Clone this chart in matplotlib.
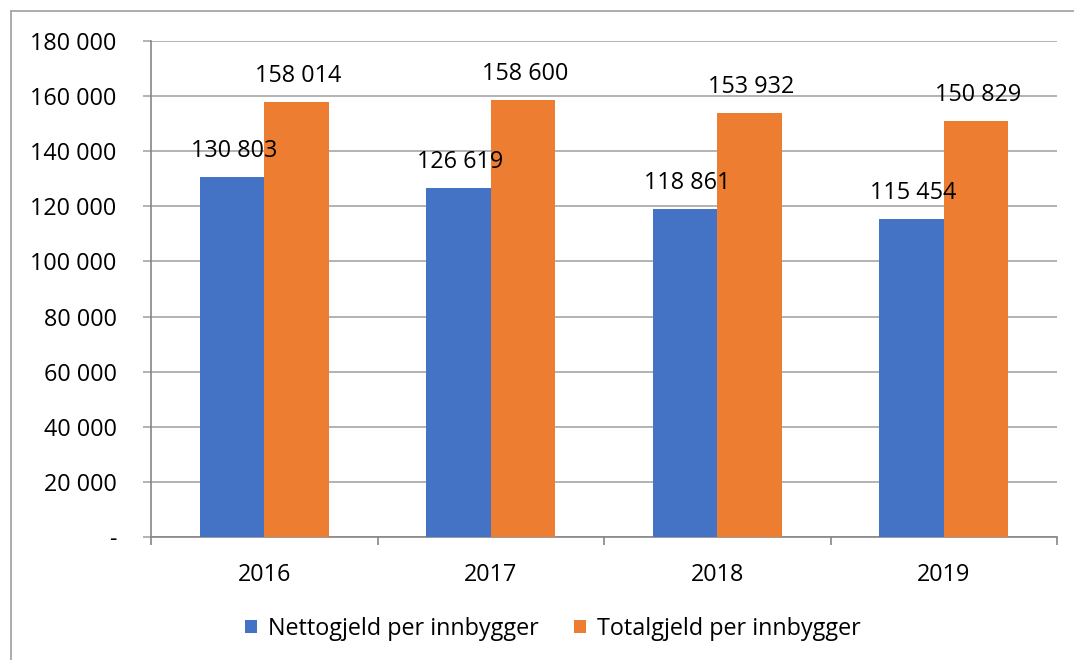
import matplotlib
matplotlib.use("Agg")
import matplotlib.pyplot as plt
from matplotlib.lines import Line2D
import numpy as np

years = ["2016", "2017", "2018", "2019"]
netto = [130803, 126619, 118861, 115454]
total = [158014, 158600, 153932, 150829]
series_names = ["Nettogjeld per innbygger", "Totalgjeld per innbygger"]
yticks = [0, 20000, 40000, 60000, 80000, 100000, 120000, 140000, 160000, 180000]

def fmt(v):
    return "-" if v == 0 else f"{v:,}".replace(",", " ")

plt.rcParams['font.family'] = ['Open Sans', 'DejaVu Sans']
FS = 16.8

W, H = 1074, 660
fig = plt.figure(figsize=(W / 100, H / 100), dpi=100)
ax = fig.add_axes([151 / W, (H - 537) / H, (1057 - 151) / W, (537 - 41) / H])

x = np.arange(len(years))
bw = 0.285
blue, orange = "#4472C4", "#ED7D31"
b1 = ax.bar(x - bw / 2, netto, bw, color=blue, label=series_names[0], zorder=3)
b2 = ax.bar(x + bw / 2, total, bw, color=orange, label=series_names[1], zorder=3)

for bars, vals in ((b1, netto), (b2, total)):
    for r, v in zip(bars, vals):
        ax.annotate(fmt(v), (r.get_x() + r.get_width() / 2, v), xytext=(2, 26),
                    textcoords="offset pixels", ha="center", va="center",
                    fontsize=FS, color="black", zorder=5)

ax.set_xlim(-0.5, len(years) - 0.5)
ax.set_ylim(0, 180000)
ax.set_yticks(yticks)
ax.set_yticklabels([fmt(v) for v in yticks], fontsize=FS)
ax.set_xticks(x)
ax.set_xticklabels(years, fontsize=FS)
ax.set_xticks(np.arange(-0.5, len(years)), minor=True)

gridc = "#A6A6A6"
axc = "#868686"
ax.grid(axis="y", color=gridc, linewidth=1.2, zorder=0)
ax.tick_params(axis="x", which="major", length=0, pad=19)
ax.tick_params(axis="x", which="minor", length=5.8, color=axc, width=1.2)
ax.tick_params(axis="y", length=5.8, color=gridc, width=1.2, pad=19)
for s in ("top", "right"):
    ax.spines[s].set_visible(False)
ax.spines["left"].set_color(axc)
ax.spines["bottom"].set_color(axc)
ax.spines["left"].set_linewidth(1.2)
ax.spines["bottom"].set_linewidth(1.2)

fig.legend(handles=[b1, b2], labels=series_names, loc="center",
           bbox_to_anchor=(553 / W, (H - 629) / H), ncol=2, frameon=False,
           fontsize=FS, handlelength=0.5, handleheight=0.5, handletextpad=0.5,
           columnspacing=1.5)

# outer frame
fig.add_artist(Line2D([10.5 / W, 10.5 / W], [0, (H - 11) / H], color=gridc, lw=1.3, transform=fig.transFigure))
fig.add_artist(Line2D([10.5 / W, 1], [(H - 11) / H, (H - 11) / H], color=gridc, lw=1.3, transform=fig.transFigure))

fig.savefig("out.png", dpi=100)
